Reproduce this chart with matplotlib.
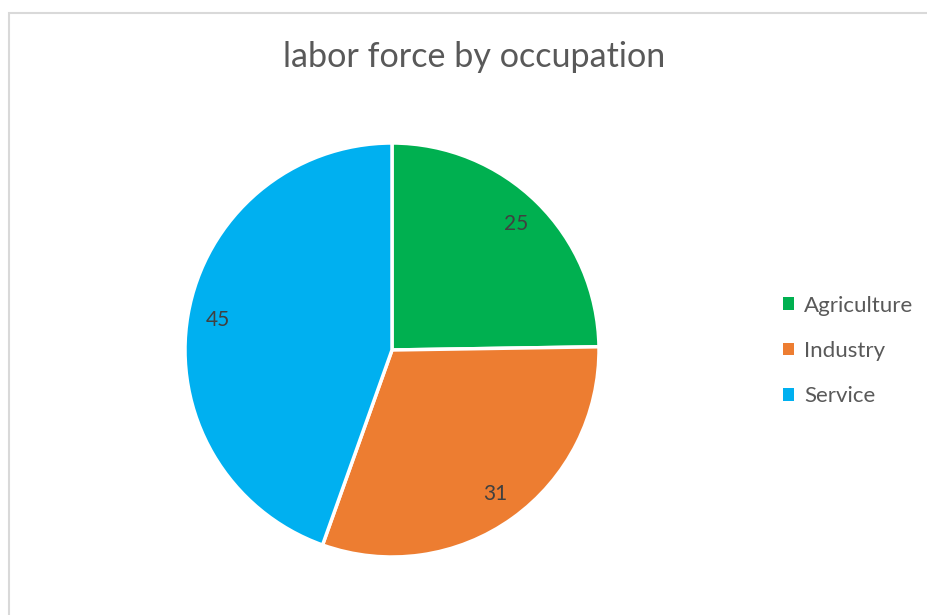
import matplotlib
matplotlib.use("Agg")
import matplotlib.pyplot as plt
from matplotlib.patches import Rectangle, Patch

categories = ["Agriculture", "Industry", "Service"]
values = [25, 31, 45]
colors = ["#00B050", "#ED7D31", "#00B0F0"]
title = "labor force by occupation"

W, H = 928, 615
fig = plt.figure(figsize=(W / 100, H / 100), dpi=100)
fig.patch.set_facecolor("white")

# chart border (light gray), right/bottom clipped
fig.patches.append(Rectangle((9.5 / W, -0.1), 1.2, (H - 12.5) / H + 0.1, transform=fig.transFigure,
                             fill=False, edgecolor="#D9D9D9", linewidth=1.5))

cx, cy, R = 392, H - 350, 207
ax = fig.add_axes([(cx - R) / W, (cy - R) / H, 2 * R / W, 2 * R / H])
wedges, texts = ax.pie(values, colors=colors, startangle=90, counterclock=False,
                       labels=[str(v) for v in values], labeldistance=0.855,
                       wedgeprops=dict(edgecolor="white", linewidth=2.5),
                       textprops=dict(fontsize=15, color="#404040", family="Lato"))
for t in texts:
    t.set_ha("center")
    t.set_va("center")
ax.set_xlim(-1, 1)
ax.set_ylim(-1, 1)
ax.set_aspect("equal")
ax.axis("off")

fig.text(474 / W, 1 - 57 / H, title, ha="center", va="center", fontsize=24.6,
         color="#595959", family="Lato")

handles = [Patch(facecolor=c, edgecolor="none") for c in colors]
leg = fig.legend(handles, categories, loc="center left", bbox_to_anchor=(783 / W, 1 - 351 / H),
                 frameon=False, handlelength=0.5, handleheight=0.5,
                 handletextpad=0.45, labelspacing=1.14, borderpad=0, borderaxespad=0,
                 prop=dict(family="Lato", size=16))
for t in leg.get_texts():
    t.set_color("#595959")

fig.savefig("out.png", dpi=100)
